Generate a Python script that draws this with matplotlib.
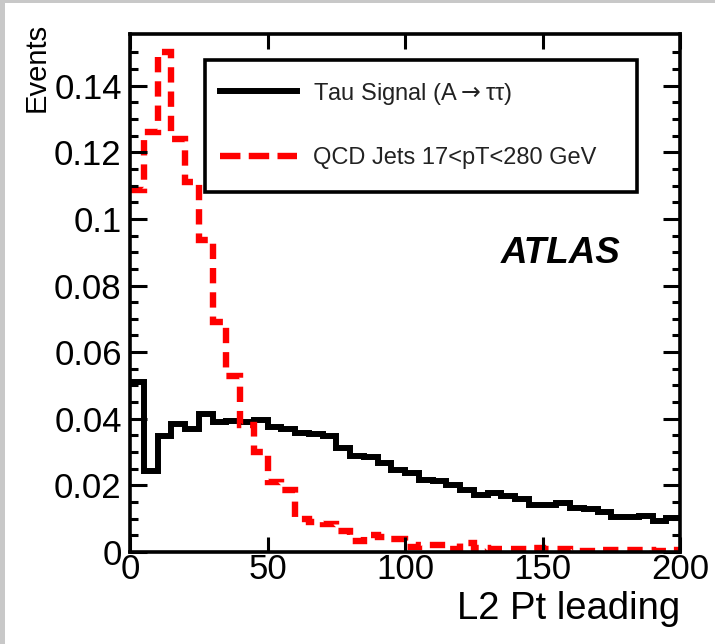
import numpy as np
import matplotlib
matplotlib.use("Agg")
import matplotlib.pyplot as plt
from matplotlib.lines import Line2D
from matplotlib.patches import Rectangle

plt.rcParams['font.family'] = ['Liberation Sans', 'DejaVu Sans']
plt.rcParams['mathtext.fontset'] = 'dejavusans'

bin_edges = np.arange(0, 205, 5)

tau_signal = [0.051, 0.0244, 0.0349, 0.0385, 0.037, 0.0415, 0.039, 0.0394, 0.039, 0.0397,
              0.0376, 0.037, 0.0358, 0.0355, 0.0349, 0.0313, 0.0289, 0.0286, 0.0268, 0.0247,
              0.0238, 0.0216, 0.0212, 0.0202, 0.0187, 0.0172, 0.0178, 0.0168, 0.0160, 0.0141,
              0.0141, 0.0147, 0.0132, 0.0128, 0.0120, 0.0105, 0.0106, 0.0108, 0.0093, 0.0102]

qcd_jets = [0.1088, 0.126, 0.150, 0.124, 0.111, 0.0936, 0.069, 0.0527, 0.038, 0.030,
            0.021, 0.0187, 0.0099, 0.0090, 0.0084, 0.0063, 0.0033, 0.0051, 0.0045, 0.0040,
            0.0015, 0.0022, 0.0020, 0.0009, 0.0028, 0.0012, 0.0010, 0.0010, 0.0010, 0.0011,
            0.0009, 0.0008, 0.0003, 0.0004, 0.0007, 0.0007, 0.0006, 0.0005, 0.0002, 0.0006]

labels = ["Tau Signal (A$\\rightarrow$\u03c4\u03c4)", "QCD Jets 17<pT<280 GeV"]
x_ticks = [0, 50, 100, 150, 200]
y_ticks = [0, 0.02, 0.04, 0.06, 0.08, 0.1, 0.12, 0.14]
y_tick_labels = ["0", "0.02", "0.04", "0.06", "0.08", "0.1", "0.12", "0.14"]

W, H = 715, 644
fig = plt.figure(figsize=(W / 100, H / 100), dpi=100)
fig.patch.set_facecolor('white')
# grey window border strips
fig.add_artist(Rectangle((0, 0), 5 / W, 1, transform=fig.transFigure, color='#c8c8c8', lw=0))
fig.add_artist(Rectangle((0, 1 - 3 / H), 1, 3 / H, transform=fig.transFigure, color='#c8c8c8', lw=0))

ax = fig.add_axes([130 / W, 1 - 552 / H, 550 / W, 518 / H])

ax.stairs(tau_signal, bin_edges, baseline=None, color='black', lw=4.3)
ax.stairs(qcd_jets, bin_edges, baseline=None, color='#ff0000', lw=4.6,
          linestyle=(0, (2.4, 1.4)))

ax.set_xlim(0, 200)
ax.set_ylim(0, 0.1555)

for s in ax.spines.values():
    s.set_linewidth(2.6)

ax.set_xticks(x_ticks)
ax.set_xticklabels([str(v) for v in x_ticks])
ax.set_yticks(y_ticks)
ax.set_yticklabels(y_tick_labels)
ax.set_yticks(np.arange(0, 0.155, 0.005), minor=True)
ax.tick_params(axis='both', which='both', direction='in', top=True, right=True, width=2.2)
ax.tick_params(axis='x', which='major', length=11, labelsize=25, pad=1)
ax.tick_params(axis='y', which='major', length=12, labelsize=25, pad=6)
ax.tick_params(axis='y', which='minor', length=6)

ax.set_xlabel("L2 Pt leading", fontsize=27.5, loc='right', labelpad=3)
ax.set_ylabel("Events", fontsize=21, loc='top')
ax.yaxis.set_label_coords(-0.145, 1.021)

ax.text(0.891, 0.576, "ATLAS", transform=ax.transAxes, fontsize=26.5,
        fontweight='bold', fontstyle='italic', ha='right', va='center')

# legend frame
ax.add_patch(Rectangle((0.136, 0.695), 0.786, 0.255, transform=ax.transAxes,
                       facecolor='white', edgecolor='black', lw=2.6, zorder=5))
handles = [Line2D([], [], color='black', lw=4.3),
           Line2D([], [], color='#ff0000', lw=4.6, linestyle=(0, (3.2, 1.3)))]
leg = ax.legend(handles, labels, loc='upper left', bbox_to_anchor=(0.163, 0.910),
                frameon=False, fontsize=17, handlelength=3.26, handletextpad=0.68,
                labelspacing=1.72, borderpad=0, borderaxespad=0)
leg.set_zorder(6)
for t in leg.get_texts():
    t.set_color('#222222')

fig.savefig("out.png", dpi=100)
